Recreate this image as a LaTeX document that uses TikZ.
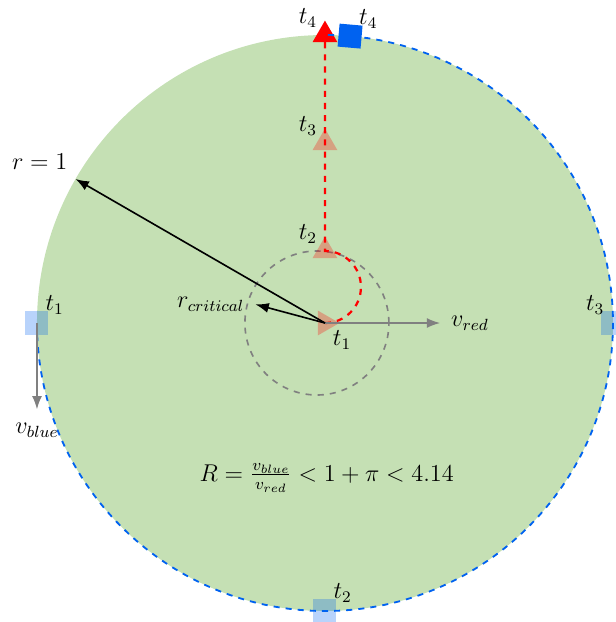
\documentclass[tikz,border=0pt]{standalone}
\usepackage{amsmath}
\usepackage{amssymb}
\usetikzlibrary{arrows, arrows.meta, positioning, shapes.geometric}

\definecolor{fieldgreen}{RGB}{197,224,180}
\definecolor{bluecol}{RGB}{0,98,240}

\begin{document}
\begin{tikzpicture}[
    redtri/.style={regular polygon, regular polygon sides=3, fill=red, minimum size=0.5cm, inner sep=0pt},
    bluesq/.style={rectangle, fill=bluecol, minimum size=0.4cm, inner sep=0pt},
    faded/.style={fill opacity=0.28},
    tlbl/.style={font=\large, inner sep=1pt, text opacity=1, fill opacity=1},
    sqlbl/.style={tlbl, label distance=-0.14cm},
    velarrow/.style={-Latex, gray, thick},
    radarrow/.style={-Latex, black, thick}
]
    \useasboundingbox (-5.642,-5.191) rectangle (5.052,5.608);

    % playing field
    \fill[fieldgreen] (0,0) circle (5);
    \draw[gray, dashed, thick] (-0.14,0) circle (1.25);

    % red player
    \node[redtri, faded, shape border rotate=-90, label={[tlbl]below right:$t_1$}] (r1) at (0,0) {};
    \node[redtri, faded, label={[tlbl]above left:$t_2$}] (r2) at (0,1.25) {};
    \node[redtri, faded, label={[tlbl]above left:$t_3$}] (r3) at (0,3.125) {};
    \draw[red, dashed, line width=1.1pt] (r1.center) arc[start angle=-90, end angle=90, radius=0.625] -- (r3.center) -- (0,5);
    \node[redtri, label={[tlbl]above left:$t_4$}] (r4) at (0,5) {};

    % blue player
    \node[bluesq, faded, label={[sqlbl]above right:$t_1$}] (b1) at (180:5) {};
    \draw[bluecol, dashed, line width=0.9pt] (b1.center) arc[start angle=180, end angle=450, radius=5];
    \node[bluesq, faded, label={[sqlbl]above right:$t_2$}] (b2) at (270:5) {};
    \node[bluesq, faded, label={[sqlbl]above left:$t_3$}] (b3) at (0:5) {};
    \node[bluesq, rotate=-5, label={[sqlbl]above right:$t_4$}] (b4) at (85:5) {};

    % velocities and radii
    \coordinate (vredtip) at (2,0);
    \coordinate (vbluetip) at (-5,-1.5);
    \coordinate (rtip) at (150:5);
    \coordinate (crittip) at (165:1.25);
    \draw[velarrow] (r1.center) -- (vredtip);
    \draw[velarrow] (b1.center) -- (vbluetip);
    \draw[radarrow] (r1.center) -- (rtip);
    \draw[radarrow] (r1.center) -- (crittip);
    \node[tlbl, right=0.15cm of vredtip] (vredlbl) {$v_{red}$};
    \node[tlbl, below=0.2cm of vbluetip] (vbluelbl) {$v_{blue}$};
    \node[tlbl, above left=0.12cm and 0.1cm of rtip] (rlbl) {$r = 1$};
    \node[tlbl, left=0.15cm of crittip] (critlbl) {$r_{critical}$};

    \node[tlbl] (ratio) at (0.03,-2.69) {$R = \frac{v_{blue}}{v_{red}} < 1 + \pi < 4.14$};
\end{tikzpicture}
\end{document}
